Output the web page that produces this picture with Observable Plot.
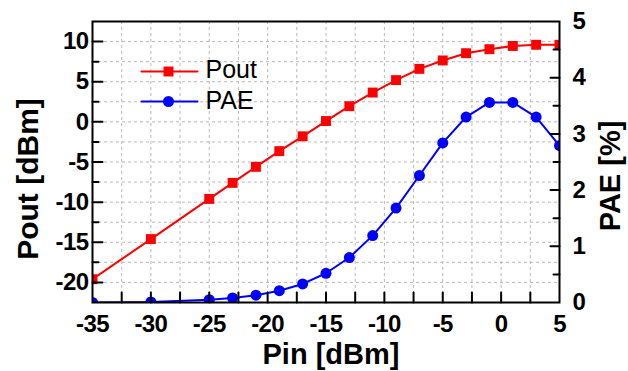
<!DOCTYPE html>
<html>
<head>
<meta charset="utf-8">
<script src="https://cdn.jsdelivr.net/npm/d3@7"></script>
<script src="https://cdn.jsdelivr.net/npm/@observablehq/plot@0.6"></script>
<style>
  html, body { margin: 0; padding: 0; background: #fff; }
  svg { display: block; }
  g[aria-label*="tick label"] { letter-spacing: -0.6px; }
</style>
</head>
<body>
<div id="chart"></div>
<script>
// ---- data ----
const pin  = [-35, -30, -25, -23, -21, -19, -17, -15, -13, -11, -9, -7, -5, -3, -1, 1, 3, 5];
const pout = [-19.6, -14.6, -9.6, -7.6, -5.6, -3.65, -1.8, 0.1, 1.95, 3.65, 5.2, 6.6, 7.65, 8.55, 9.05, 9.45, 9.6, 9.6];
const pae  = [0.0, 0.01, 0.05, 0.08, 0.13, 0.21, 0.33, 0.52, 0.80, 1.19, 1.68, 2.26, 2.84, 3.30, 3.56, 3.56, 3.30, 2.79];

const xTickLabels = [-35, -30, -25, -20, -15, -10, -5, 0, 5];
const yLeftTickLabels = [-20, -15, -10, -5, 0, 5, 10];
const yRightTickLabels = [0, 1, 2, 3, 4, 5];
const xMinorTicks = [-32.5, -30, -27.5, -25, -22.5, -20, -17.5, -15, -12.5, -10, -7.5, -5, -2.5, 0, 2.5];
const yLeftMajorTicks = [-20, -15, -10, -5, 0, 5, 10];
const yLeftMinorTicks = [-17.5, -12.5, -7.5, -2.5, 2.5, 7.5];
const yRightMajorTicks = [1, 2, 3, 4];
const yRightMinorTicks = [0.5, 1.5, 2.5, 3.5, 4.5];
const xGrid = [-32.5, -30, -27.5, -25, -22.5, -20, -17.5, -15, -12.5, -10, -7.5, -5, -2.5, 0, 2.5];
const yGrid = [-20, -17.5, -15, -12.5, -10, -7.5, -5, -2.5, 0, 2.5, 5, 7.5, 10];
const seriesNames = ["Pout", "PAE"];

const xDomain = [-35, 5];
const yDomain = [-22.5, 12.5];
const paeDomain = [0, 5];

// map PAE onto the left (Pout) scale for a twin axis
const k = (yDomain[1] - yDomain[0]) / (paeDomain[1] - paeDomain[0]);
const toY = v => yDomain[0] + (v - paeDomain[0]) * k;
const fromY = y => paeDomain[0] + (y - yDomain[0]) / k;

const poutData = pin.map((x, i) => ({x, y: pout[i]}));
const paeData = pin.map((x, i) => ({x, y: toY(pae[i])}));

const lineShape = {draw(context, l) { context.moveTo(0, 0); context.lineTo(0, -l); }};
const RED = "#ff0000", BLUE = "#0000ff";
const FONT = "'Liberation Sans', Arial, Helvetica, sans-serif";

const chart = Plot.plot({
  width: 628,
  height: 371,
  marginLeft: 92,
  marginRight: 69,
  marginTop: 21,
  marginBottom: 69,
  style: {fontFamily: FONT, fontSize: "24px", fontWeight: "bold", color: "#000", background: "#fff"},
  x: {domain: xDomain, axis: null},
  y: {domain: yDomain, axis: null},
  marks: [
    // grid
    Plot.gridX(xGrid, {stroke: "#b8b8b8", strokeOpacity: 1, strokeDasharray: "3,3", strokeWidth: 1}),
    Plot.gridY(yGrid, {stroke: "#b8b8b8", strokeOpacity: 1, strokeDasharray: "3,3", strokeWidth: 1}),
    // series
    Plot.line(poutData, {x: "x", y: "y", stroke: RED, strokeWidth: 2, clip: true}),
    Plot.dot(poutData, {x: "x", y: "y", symbol: "square", r: 5.6, fill: RED, stroke: "none", clip: true}),
    Plot.line(paeData, {x: "x", y: "y", stroke: BLUE, strokeWidth: 2, clip: true}),
    Plot.dot(paeData, {x: "x", y: "y", symbol: "circle", r: 5.5, fill: BLUE, stroke: "none", clip: true}),
    // frame
    Plot.frame({stroke: "#000", strokeWidth: 2}),
    // inward ticks
    Plot.vector(xMinorTicks, {x: d => d, y: () => yDomain[0], length: 10, rotate: 0, anchor: "start", shape: lineShape, stroke: "#000", strokeWidth: 2}),
    Plot.vector(yLeftMajorTicks, {x: () => xDomain[0], y: d => d, length: 10, rotate: 90, anchor: "start", shape: lineShape, stroke: "#000", strokeWidth: 2}),
    Plot.vector(yLeftMinorTicks, {x: () => xDomain[0], y: d => d, length: 6, rotate: 90, anchor: "start", shape: lineShape, stroke: "#000", strokeWidth: 2}),
    Plot.vector(yRightMajorTicks, {x: () => xDomain[1], y: d => toY(d), length: 9, rotate: 270, anchor: "start", shape: lineShape, stroke: "#000", strokeWidth: 2}),
    Plot.vector(yRightMinorTicks, {x: () => xDomain[1], y: d => toY(d), length: 6, rotate: 270, anchor: "start", shape: lineShape, stroke: "#000", strokeWidth: 2}),
    // tick labels
    Plot.axisX(xTickLabels, {anchor: "bottom", tickSize: 0, tickPadding: 12, tickFormat: d => String(d), label: null, fontSize: 24, fontWeight: "bold"}),
    Plot.axisY(yLeftTickLabels, {anchor: "left", tickSize: 0, tickPadding: 4, tickFormat: d => String(d), label: null, fontSize: 24, fontWeight: "bold"}),
    Plot.axisY(yRightTickLabels.map(toY), {anchor: "right", tickSize: 0, tickPadding: 13, tickFormat: d => String(Math.round(fromY(d))), label: null, fontSize: 24, fontWeight: "bold"}),
    // axis titles
    Plot.text(["Pout [dBm]"], {frameAnchor: "left", dx: -64, dy: 17, rotate: -90, textAnchor: "middle", lineAnchor: "middle", fontSize: 30, fontWeight: "bold", fill: "#000"}),
    Plot.text(["PAE [%]"], {frameAnchor: "right", dx: 51, dy: 14, rotate: -90, textAnchor: "middle", lineAnchor: "middle", fontSize: 29, fontWeight: "bold", fill: "#000"}),
    Plot.text(["Pin [dBm]"], {frameAnchor: "bottom", dx: 5, dy: 52, textAnchor: "middle", lineAnchor: "middle", fontSize: 29, fontWeight: "bold", fill: "#000"}),
    // legend
    Plot.vector([seriesNames[0]], {frameAnchor: "top-left", dx: 49, dy: 50, length: 56, rotate: 90, anchor: "start", shape: lineShape, stroke: RED, strokeWidth: 2}),
    Plot.dot([seriesNames[0]], {frameAnchor: "top-left", dx: 76, dy: 50, symbol: "square", r: 5.6, fill: RED, stroke: "none"}),
    Plot.text([seriesNames[0]], {frameAnchor: "top-left", dx: 113, dy: 48, text: d => d, textAnchor: "start", lineAnchor: "middle", fontSize: 25, fontWeight: "normal", fill: "#000"}),
    Plot.vector([seriesNames[1]], {frameAnchor: "top-left", dx: 49, dy: 80, length: 56, rotate: 90, anchor: "start", shape: lineShape, stroke: BLUE, strokeWidth: 2}),
    Plot.dot([seriesNames[1]], {frameAnchor: "top-left", dx: 76, dy: 80, symbol: "circle", r: 5.5, fill: BLUE, stroke: "none"}),
    Plot.text([seriesNames[1]], {frameAnchor: "top-left", dx: 113, dy: 79, text: d => d, textAnchor: "start", lineAnchor: "middle", fontSize: 25, fontWeight: "normal", fill: "#000"})
  ]
});
document.getElementById("chart").appendChild(chart);
</script>
</body>
</html>
